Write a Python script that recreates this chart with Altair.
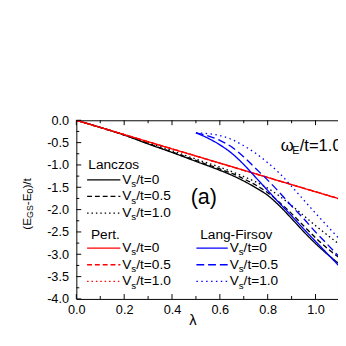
import altair as alt
import pandas as pd

FONT = "Liberation Sans"

# ---------------- data ----------------
lam_lz = [0.0, 0.1, 0.2, 0.3, 0.4, 0.5, 0.6, 0.65, 0.7, 0.75, 0.8, 0.85, 0.9, 0.95, 1.0, 1.05, 1.1]
lz_v0 = [0.0, -0.16, -0.33, -0.53, -0.72, -0.92, -1.12, -1.23, -1.36, -1.51, -1.68, -1.92, -2.20, -2.49, -2.76, -3.00, -3.22]
lz_v05 = [0.0, -0.16, -0.33, -0.52, -0.71, -0.90, -1.09, -1.19, -1.31, -1.45, -1.62, -1.84, -2.09, -2.36, -2.63, -2.87, -3.08]
lz_v1 = [0.0, -0.16, -0.32, -0.50, -0.68, -0.87, -1.05, -1.15, -1.26, -1.38, -1.52, -1.70, -1.91, -2.13, -2.36, -2.57, -2.78]

lam_pt = [0.0, 1.1]
pt_v0 = [0.0, -1.76]
pt_v05 = [0.0, -1.76]
pt_v1 = [0.0, -1.76]

lam_lf = [0.5, 0.55, 0.6, 0.65, 0.7, 0.75, 0.8, 0.85, 0.9, 0.95, 1.0, 1.05, 1.1]
lf_v0 = [-0.28, -0.40, -0.55, -0.74, -0.99, -1.28, -1.57, -1.86, -2.14, -2.43, -2.71, -2.99, -3.27]
lf_v05 = [-0.28, -0.35, -0.45, -0.60, -0.82, -1.08, -1.34, -1.62, -1.92, -2.20, -2.50, -2.78, -3.06]
lf_v1 = [-0.28, -0.30, -0.34, -0.43, -0.57, -0.74, -0.95, -1.19, -1.48, -1.78, -2.08, -2.37, -2.66]

methods = ["Lanczos", "Pert.", "Lang-Firsov"]
vs_levels = ["0", "0.5", "1.0"]

x_major = [0.0, 0.2, 0.4, 0.6, 0.8, 1.0]
x_minor = [0.1, 0.3, 0.5, 0.7, 0.9]
y_major = [0.0, -0.5, -1.0, -1.5, -2.0, -2.5, -3.0, -3.5, -4.0]
y_minor = [-0.25, -0.75, -1.25, -1.75, -2.25, -2.75, -3.25, -3.75]

# legend layout (data coordinates)
legend_titles = ["Lanczos", "Pert.", "Lang-Firsov"]
legend_title_x = [0.05, 0.061, 0.518]
legend_title_y = [-1.0, -2.58, -2.58]
legend_row_y = {"Lanczos": [-1.333, -1.705, -2.077],
                "Pert.": [-2.863, -3.235, -3.607],
                "Lang-Firsov": [-2.863, -3.235, -3.607]}
legend_line_x = {"Lanczos": (0.045, 0.184), "Pert.": (0.045, 0.184), "Lang-Firsov": (0.502, 0.633)}
legend_text_x = {"Lanczos": 0.192, "Pert.": 0.192, "Lang-Firsov": 0.641}

# ---------------- tables ----------------
series_names = [m + "|" + v for m in methods for v in vs_levels]
series_dash = [[1, 0], [5, 3], [1.5, 3],
               [1, 0], [5, 3], [1.5, 3],
               [1, 0], [8, 4], [1.5, 3.5]]

rows = []
for m, lams, series in [("Lanczos", lam_lz, [lz_v0, lz_v05, lz_v1]),
                        ("Pert.", lam_pt, [pt_v0, pt_v05, pt_v1]),
                        ("Lang-Firsov", lam_lf, [lf_v0, lf_v05, lf_v1])]:
    for vs, vals in zip(vs_levels, series):
        for l, e in zip(lams, vals):
            rows.append({"lam": l, "E": e, "method": m, "vs": vs, "series": m + "|" + vs})
df = pd.DataFrame(rows)

leg_rows = []
for m in methods:
    for vs, yy in zip(vs_levels, legend_row_y[m]):
        leg_rows.append({"x0": legend_line_x[m][0], "x1": legend_line_x[m][1], "ly": yy,
                         "tx": legend_text_x[m], "method": m, "vs": vs,
                         "series": m + "|" + vs, "rest": "/t=" + vs})
leg = pd.DataFrame(leg_rows)
titles = pd.DataFrame({"tx": legend_title_x, "ty": legend_title_y, "txt": legend_titles})

x_scale = alt.Scale(domain=[0.0, 1.094], nice=False, zero=False)
y_scale = alt.Scale(domain=[-4.0, 0.0], nice=False, zero=False)
color_scale = alt.Scale(domain=methods, range=["#000000", "#ff0000", "#0000ff"])
dash_scale = alt.Scale(domain=series_names, range=series_dash)

x_axis = alt.Axis(values=x_major, format=".1f", ticks=False, tickSize=0, domain=False, grid=False,
                  labelFont=FONT, labelFontSize=13, labelColor="black", labelPadding=5,
                  labelFlush=False, title="λ", titleFont=FONT, titleFontSize=15,
                  titleFontWeight="normal", titleColor="black", titleX=119, titleY=21,
                  titleBaseline="middle", titleAnchor="start", titleAlign="center")
y_axis = alt.Axis(values=y_major, ticks=False, tickSize=0, domain=False, grid=False,
                  labelExpr="replace(format(datum.value, '.1f'), '−', '-')",
                  labelFont=FONT, labelFontSize=13, labelColor="black", labelPadding=8,
                  title=None)


def X(field):
    return alt.X(field, scale=x_scale, axis=x_axis)


def Y(field):
    return alt.Y(field, scale=y_scale, axis=y_axis)


curves = alt.Chart(df).mark_line(clip=True, strokeWidth=1.35, interpolate="monotone").encode(
    x=X("lam:Q"),
    y=Y("E:Q"),
    color=alt.Color("method:N", scale=color_scale, legend=None),
    strokeDash=alt.StrokeDash("series:N", scale=dash_scale, legend=None),
    detail="series:N",
)


def xtick(vals, y0, y1):
    return alt.Chart(pd.DataFrame({"t": vals})).mark_rule(color="black", strokeWidth=1).encode(
        x=X("t:Q"), y=alt.value(y0), y2=alt.value(y1))


def ytick(vals, x0, x1):
    return alt.Chart(pd.DataFrame({"t": vals})).mark_rule(color="black", strokeWidth=1).encode(
        y=Y("t:Q"), x=alt.value(x0), x2=alt.value(x1))


H = 183
ticks = [xtick(x_major, H, H - 5), xtick(x_minor, H, H - 3),
         xtick(x_major, 0, 5), xtick(x_minor, 0, 3),
         ytick(y_major, 0, 5), ytick(y_minor, 0, 3)]

leg_lines = alt.Chart(leg).mark_rule(strokeWidth=1.35).encode(
    x=X("x0:Q"), x2="x1:Q",
    y=Y("ly:Q"),
    color=alt.Color("method:N", scale=color_scale, legend=None),
    strokeDash=alt.StrokeDash("series:N", scale=dash_scale, legend=None),
)

LS = 14


def leg_text(field, dx, dy, size):
    return alt.Chart(leg).mark_text(font=FONT, fontSize=size, align="left", baseline="middle",
                                    color="black", dx=dx, dy=dy).encode(
        x=X("tx:Q"), y=Y("ly:Q"), text=field)


leg_V = leg_text(alt.value("V"), 0, 0, LS)
leg_s = leg_text(alt.value("s"), 9.3, 4.5, 10)
leg_rest = leg_text("rest:N", 14.3, 0, LS)

title_text = alt.Chart(titles).mark_text(font=FONT, fontSize=LS, align="left", baseline="middle",
                                         color="black").encode(
    x=X("tx:Q"), y=Y("ty:Q"), text="txt:N")


def piece(txt, lx, ly, dx, dy, size):
    return alt.Chart(pd.DataFrame({"lx": [lx], "ly": [ly], "txt": [txt]})).mark_text(
        font=FONT, fontSize=size, align="left", baseline="middle", color="black", dx=dx, dy=dy).encode(
        x=X("lx:Q"), y=Y("ly:Q"), text="txt:N")


omega = [piece("ω", 0.855, -0.57, 0, 0, 17), piece("E", 0.855, -0.57, 11.7, 5, 11),
         piece("/t=1.0", 0.855, -0.57, 19.3, 0, 17)]
label_a = piece("(a)", 0.478, -1.73, 0, 0, 22)


def ypiece(txt, dx, dy, size):
    return alt.Chart(pd.DataFrame({"txt": [txt]})).mark_text(
        font=FONT, fontSize=size, align="left", baseline="middle", color="black",
        angle=270, dx=dx, dy=dy).encode(x=alt.value(-50), y=alt.value(112), text="txt:N")


ytitle = [ypiece("(E", 0, 0, 12), ypiece("GS", 12, 3, 9), ypiece("-E", 25, 0, 12),
          ypiece("0", 37, 3, 9), ypiece(")/t", 42, 0, 12)]

chart = alt.layer(curves, *ticks, leg_lines, leg_V, leg_s, leg_rest, title_text,
                  *omega, label_a, *ytitle).properties(
    width=268, height=H,
    autosize=alt.AutoSizeParams(type="none"),
    padding={"left": 70, "top": 111, "right": 0, "bottom": 36},
).configure_view(stroke="black", strokeWidth=1)

chart.save("out.html", embed_options={"renderer": "svg", "actions": False})
